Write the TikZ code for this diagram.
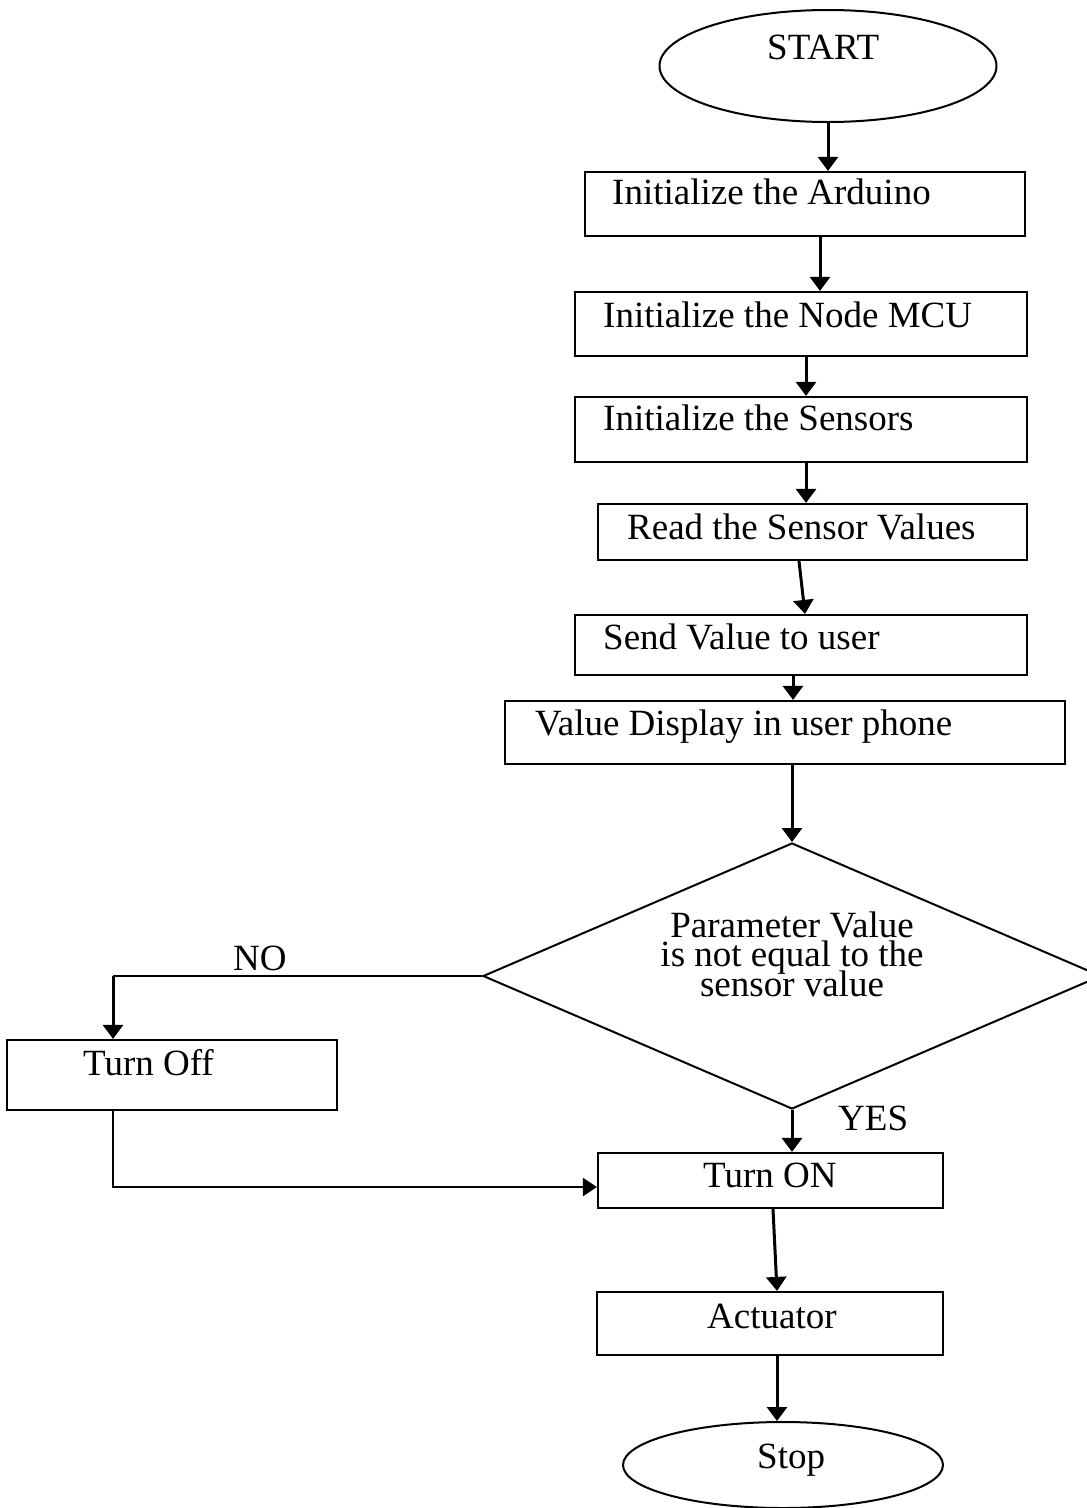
\documentclass[tikz,border=0pt]{standalone}
\usepackage{fontspec}
\setmainfont{Liberation Serif}
\usetikzlibrary{arrows.meta,shapes.geometric}
\newcommand\mydecfont{\fontsize{37}{29.5}\selectfont\setlength{\lineskiplimit}{-100pt}\setlength{\lineskip}{0pt}}
\tikzset{
  boxnode/.style={draw=black, line width=2.2pt, rectangle, inner sep=0pt},
  ellnode/.style={draw=black, line width=2pt, ellipse, inner sep=0pt},
  decnode/.style={draw=black, line width=2pt, diamond, inner sep=0pt},
  txt/.style={inner sep=0pt, anchor=base west, font=\fontsize{37}{30}\selectfont, text=black},
  dtxt/.style={inner sep=0pt, align=center, font=\mydecfont, text=black},
  arr/.style={line width=3pt, -{Triangle[length=14pt,width=20pt]}},
  thin/.style={line width=2.2pt},
  thinarr/.style={line width=2.4pt, -{Triangle[length=14pt,width=18pt]}}
}
\begin{document}
\begin{tikzpicture}[x=1pt,y=-1pt]
\path[use as bounding box, fill=white] (0,0) rectangle (1087,1508);

% shapes
\node[ellnode, minimum width=337pt, minimum height=112pt] (start) at (828,66) {};
\node[boxnode, minimum width=440pt, minimum height=64pt] (b1) at (805,204) {};
\node[boxnode, minimum width=452pt, minimum height=64pt] (b2) at (801,324) {};
\node[boxnode, minimum width=452pt, minimum height=65pt] (b3) at (801,429.5) {};
\node[boxnode, minimum width=429pt, minimum height=56pt] (b4) at (812.5,532) {};
\node[boxnode, minimum width=452pt, minimum height=60pt] (b5) at (801,645) {};
\node[boxnode, minimum width=560pt, minimum height=63pt] (b6) at (785,732.5) {};
\node[decnode, minimum width=618pt, minimum height=266pt] (dec) at (792,976) {};
\node[boxnode, minimum width=330pt, minimum height=70pt] (off) at (172,1075) {};
\node[boxnode, minimum width=345pt, minimum height=55pt] (on) at (770.5,1180.5) {};
\node[boxnode, minimum width=346pt, minimum height=63pt] (act) at (770,1323.5) {};
\node[ellnode, minimum width=320pt, minimum height=86pt] (stop) at (783,1465) {};

% texts
\node[txt] (tstart) at (767,59) {START};
\node[txt] (t1) at (612,204) {Initialize the Arduino};
\node[txt] (t2) at (603,327) {Initialize the Node MCU};
\node[txt] (t3) at (603,430) {Initialize the Sensors};
\node[txt] (t4) at (627,539) {Read the Sensor Values};
\node[txt] (t5) at (603,649) {Send Value to user};
\node[txt] (t6) at (535,735) {Value Display in user phone};
\node[dtxt] (tdec) at (792,954) {Parameter Value\\is not equal to the\\sensor value};
\node[txt] (toff) at (83,1075) {Turn Off};
\node[txt] (ton) at (703,1187) {Turn ON};
\node[txt] (tact) at (707,1328) {Actuator};
\node[txt] (tstop) at (757,1468) {Stop};
\node[txt] (tno) at (233,970) {NO};
\node[txt] (tyes) at (838,1130) {YES};

% connectors
\draw[arr] (start.south) -- (start.south |- b1.north);
\draw[arr] (b1.south -| 820,0) -- (b2.north -| 820,0);
\draw[arr] (b2.south -| 806,0) -- (b3.north -| 806,0);
\draw[arr] (b3.south -| 806,0) -- (b4.north -| 806,0);
\draw[arr] (b4.south -| 799,0) -- (b5.north -| 805,0);
\draw[arr] (b5.south -| 793,0) -- (b6.north -| 793,0);
\draw[arr] (b6.south -| dec.north) -- (dec.north);
\draw[thin] (dec.west) -- (dec.west -| 113,0);
\draw[arr] (dec.west -| 113,0) -- (off.north -| 113,0);
\draw[arr] (dec.south) -- (on.north -| dec.south);
\draw[thinarr] (off.south -| 113,0) |- (on.west |- 0,1187);
\draw[arr] (on.south -| 773,0) -- (act.north -| 777,0);
\draw[arr] (act.south -| 777,0) -- (stop.north -| 777,0);
\end{tikzpicture}
\end{document}
